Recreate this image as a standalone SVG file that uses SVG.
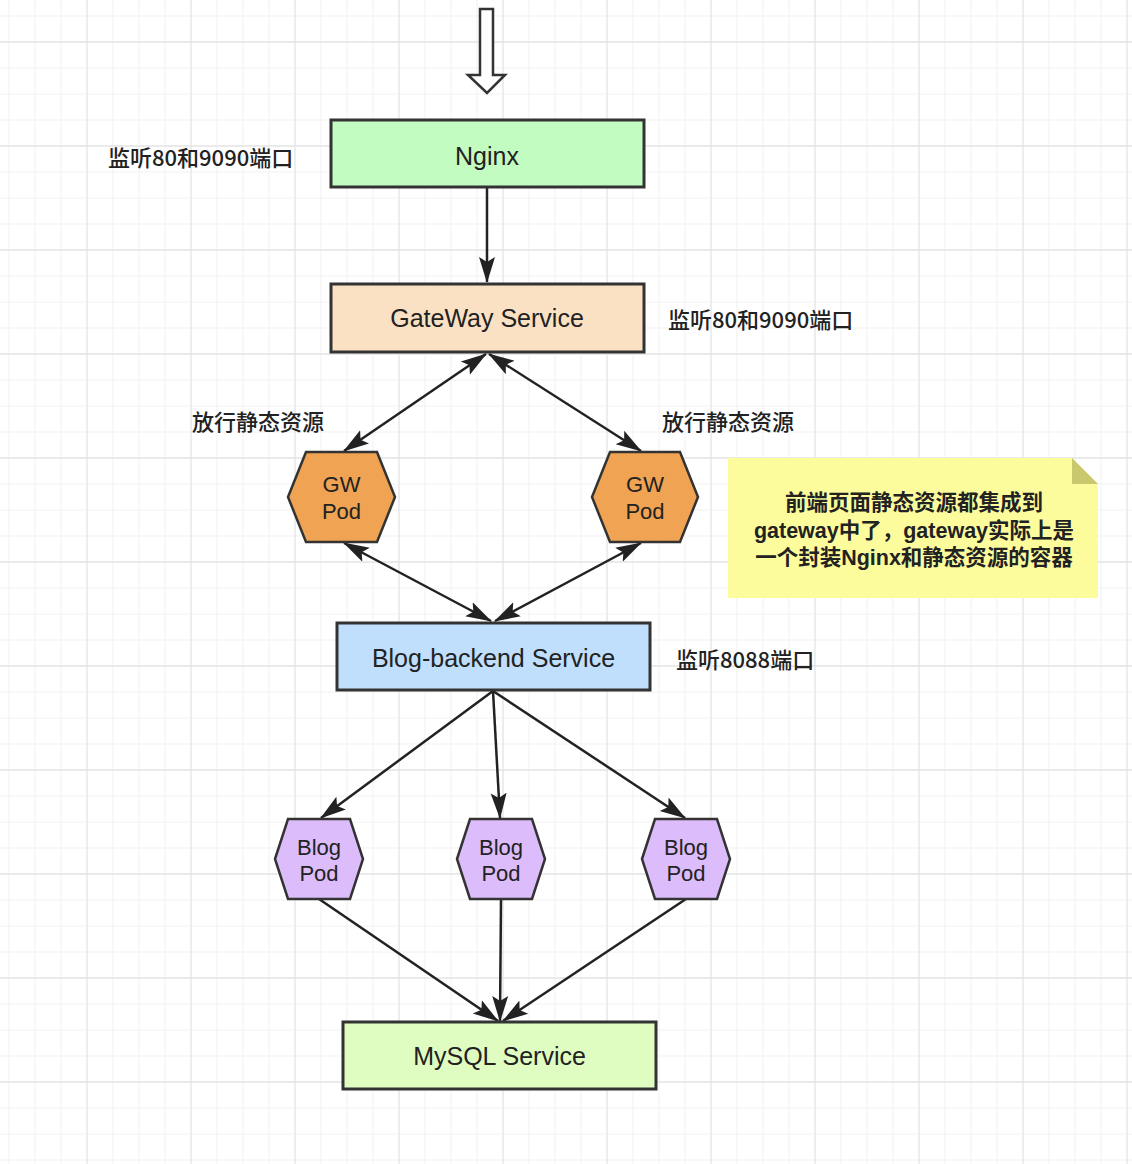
<svg xmlns="http://www.w3.org/2000/svg" width="1132" height="1164" viewBox="0 0 1132 1164">
<style>
.box{stroke:#333;stroke-width:3}
.hex{stroke:#333;stroke-width:2.5}
.t{font-family:"Liberation Sans","Noto Sans CJK SC",sans-serif;font-size:25px;fill:#222;text-anchor:middle;dominant-baseline:central}
.ht{font-family:"Liberation Sans","Noto Sans CJK SC",sans-serif;font-size:22px;fill:#222;text-anchor:middle;dominant-baseline:central}
.lbl{font-family:"Noto Sans CJK SC",sans-serif;font-size:22px;fill:#222;dominant-baseline:central;font-weight:500}
.note{font-family:"Liberation Sans","Noto Sans CJK SC",sans-serif;font-size:21.5px;fill:#222;text-anchor:middle;font-weight:bold}
.edge{stroke:#222;stroke-width:2.5;fill:none}
.one{marker-end:url(#arr)}
.two{marker-start:url(#arr);marker-end:url(#arr)}
</style>
<defs>
<pattern id="grid" x="22" y="-23" width="104" height="104" patternUnits="userSpaceOnUse">
<path d="M13 0V104M39 0V104M91 0V104M0 13H104M0 39H104M0 91H104" stroke="#f1f1f1" stroke-width="1"/>
<path d="M65 0V104M0 65H104" stroke="#e4e4e4" stroke-width="1.3"/>
</pattern>
<marker id="arr" viewBox="0 0 26 18" refX="25" refY="9" markerWidth="26" markerHeight="18" markerUnits="userSpaceOnUse" orient="auto-start-reverse">
<path d="M0 1 L26 9 L0 17 L5 9 Z" fill="#222"/>
</marker>
</defs>
<rect width="1132" height="1164" fill="#ffffff"/>
<rect width="1132" height="1164" fill="url(#grid)"/>

<g id="connectors">
<path class="edge one" d="M487 188 L487 282"/>
<path class="edge two" d="M486 354 L344 451"/>
<path class="edge two" d="M489 354 L641 451"/>
<path class="edge two" d="M344 543 L491 621"/>
<path class="edge two" d="M641 543 L495 621"/>
<path class="edge one" d="M493 691 L321 818"/>
<path class="edge one" d="M493 691 L500 818"/>
<path class="edge one" d="M493 691 L685 818"/>
<path class="edge one" d="M319 899 L498 1021"/>
<path class="edge one" d="M501 899 L500 1021"/>
<path class="edge one" d="M686 899 L503 1021"/>
</g>

<g id="entry">
<polygon points="480,9 493,9 493,75 505,75 487,93 468,75 480,75" fill="#ffffff" stroke="#333" stroke-width="2.5" stroke-linejoin="miter"/>
</g>

<g id="nginx">
<rect class="box" x="331" y="120" width="313" height="67" fill="#c3fcc0"/>
<text class="t" x="487" y="156">Nginx</text>
</g>
<g id="label-nginx">
<text class="lbl" x="108" y="156">监听80和9090端口</text>
</g>

<g id="gateway">
<rect class="box" x="331" y="284" width="313" height="68" fill="#fbe1c4"/>
<text class="t" x="487" y="318">GateWay Service</text>
</g>
<g id="label-gateway">
<text class="lbl" x="668" y="318">监听80和9090端口</text>
</g>

<g id="label-static-left">
<text class="lbl" x="192" y="420">放行静态资源</text>
</g>
<g id="label-static-right">
<text class="lbl" x="662" y="420">放行静态资源</text>
</g>

<g id="gw-pod-1">
<polygon class="hex" points="288,497 306,452 377,452 395,497 377,542 306,542" fill="#f0a352"/>
<text class="ht" x="341.5" y="484">GW</text>
<text class="ht" x="341.5" y="511">Pod</text>
</g>
<g id="gw-pod-2">
<polygon class="hex" points="592,497 610,452 680,452 698,497 680,542 610,542" fill="#f0a352"/>
<text class="ht" x="645" y="484">GW</text>
<text class="ht" x="645" y="511">Pod</text>
</g>

<g id="note">
<path d="M728 458 H1072 L1098 484 V598 H728 Z" fill="#fdfc9d"/>
<path d="M1072 458 V484 H1098 Z" fill="#c9c86e"/>
<text class="note" x="914" y="510"><tspan x="914" y="510">前端页面静态资源都集成到</tspan><tspan x="914" y="538">gateway中了，gateway实际上是</tspan><tspan x="914" y="565">一个封装Nginx和静态资源的容器</tspan></text>
</g>

<g id="blog-backend">
<rect class="box" x="337" y="623" width="313" height="67" fill="#bfdffc"/>
<text class="t" x="493.5" y="658">Blog-backend Service</text>
</g>
<g id="label-backend">
<text class="lbl" x="676" y="658">监听8088端口</text>
</g>

<g id="blog-pod-1">
<polygon class="hex" points="275,859 288,819 350,819 363,859 350,899 288,899" fill="#dcbcfb"/>
<text class="ht" x="319" y="847">Blog</text>
<text class="ht" x="319" y="873">Pod</text>
</g>
<g id="blog-pod-2">
<polygon class="hex" points="457,859 470,819 532,819 545,859 532,899 470,899" fill="#dcbcfb"/>
<text class="ht" x="501" y="847">Blog</text>
<text class="ht" x="501" y="873">Pod</text>
</g>
<g id="blog-pod-3">
<polygon class="hex" points="642,859 655,819 717,819 730,859 717,899 655,899" fill="#dcbcfb"/>
<text class="ht" x="686" y="847">Blog</text>
<text class="ht" x="686" y="873">Pod</text>
</g>

<g id="mysql">
<rect class="box" x="343" y="1022" width="313" height="67" fill="#e0fdc1"/>
<text class="t" x="499.5" y="1056">MySQL Service</text>
</g>
</svg>
